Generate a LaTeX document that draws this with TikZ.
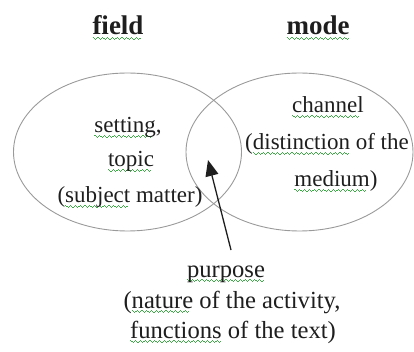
\documentclass[tikz,border=0pt]{standalone}
\usepackage{fontspec}
\setmainfont{Liberation Serif}
\usetikzlibrary{shapes.geometric,arrows.meta}
\definecolor{wavy}{HTML}{3DAE45}
\definecolor{ink}{HTML}{1E1E1E}
\definecolor{ring}{HTML}{9A9A9A}
\newlength\gwlen
\newcommand\gwpiece{\hbox{\rule[-3.0pt]{1.2pt}{0.9pt}\rule[-3.8pt]{1.2pt}{0.9pt}\rule[-4.6pt]{1.2pt}{0.9pt}\rule[-3.8pt]{1.2pt}{0.9pt}}}
\newcommand\gw[1]{\leavevmode\settowidth{\gwlen}{#1}\rlap{\color{wavy}\leaders\gwpiece\hskip\gwlen}#1}
\tikzset{
  venn/.style={ellipse, draw=ring, line width=0.9pt, inner sep=0pt},
  head/.style={anchor=base, inner sep=0pt, text=ink, font=\fontsize{27}{27}\selectfont\bfseries},
  body/.style={anchor=base, inner sep=0pt, text=ink, font=\fontsize{23}{23}\selectfont},
  lower/.style={anchor=base, inner sep=0pt, text=ink, font=\fontsize{24.6}{24.6}\selectfont},
  pointer/.style={draw=ink, line width=1.3pt, -{Triangle[length=16pt,width=13pt]}}
}
\begin{document}
\begin{tikzpicture}[x=1pt,y=-1pt]
\useasboundingbox (0,0) rectangle (414,352);
\node[venn, minimum width=228pt, minimum height=158pt] (fieldset) at (127.5,152) {};
\node[venn, minimum width=227pt, minimum height=158pt] (modeset) at (299.5,152) {};
\node[head] (field) at (118,35) {\gw{field}};
\node[head] (mode) at (318,35) {\gw{mode}};
\node[body] (f1) at (128,133) {\gw{setting},};
\node[body] (f2) at (131,167) {\gw{topic}};
\node[body] (f3) at (130,203) {(\gw{subject} matter)};
\node[body] (m1) at (328,113) {\gw{channel}};
\node[body] (m2) at (327,150) {(\gw{distinction} of the};
\node[body] (m3) at (336,187) {\gw{medium})};
\node[lower] (p1) at (226,277) {\gw{purpose}};
\node[lower] (p2) at (232,308) {(\gw{nature} of the activity,};
\node[lower] (p3) at (233,338) {\gw{functions} of the text)};
\coordinate (tail) at (231,250);
\coordinate (tip) at (208,160);
\draw[pointer] (tail) -- (tip);
\end{tikzpicture}
\end{document}
